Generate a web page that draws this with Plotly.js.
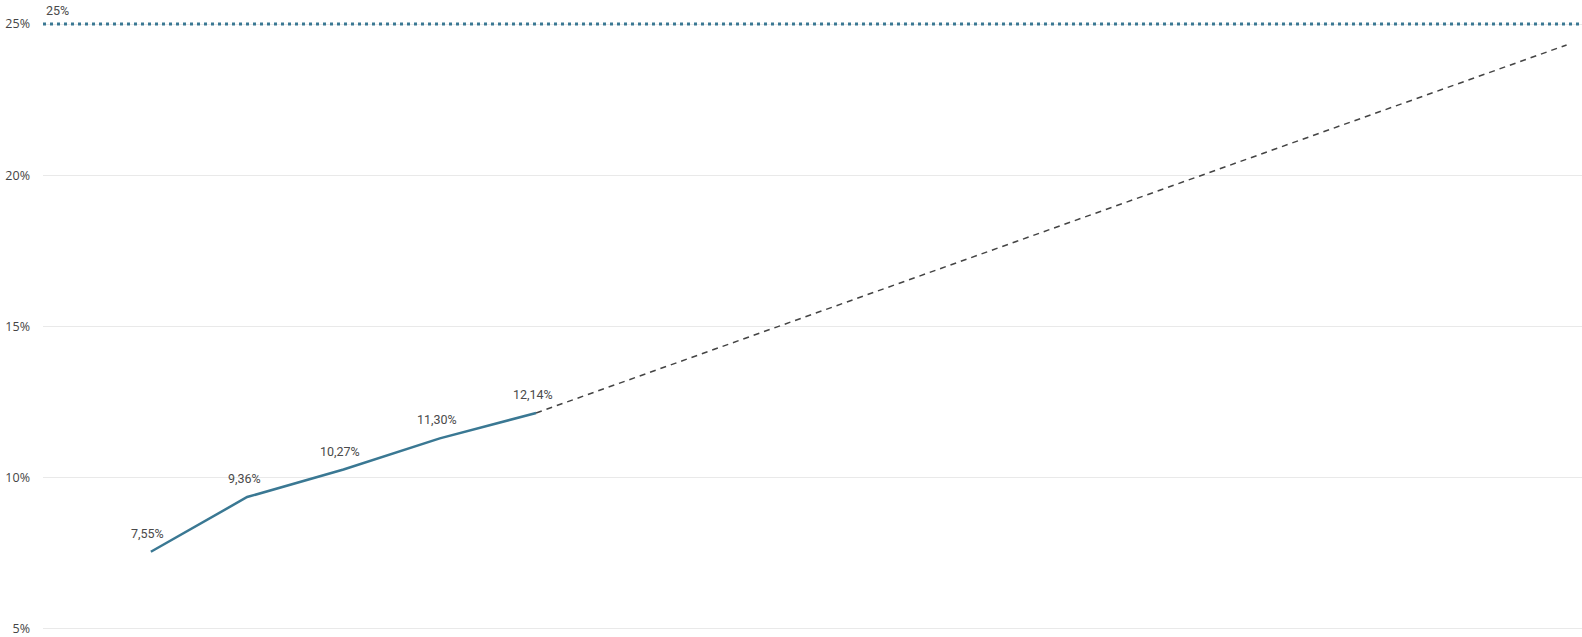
<!DOCTYPE html>
<html>
<head>
<meta charset="utf-8">
<script src="https://cdn.plot.ly/plotly-3.0.1.min.js"></script>
<style>html,body{margin:0;padding:0;background:#fff;}#chart{width:1582px;height:637px;}</style>
</head>
<body>
<div id="chart"></div>
<script>
// Data
const periods = [0, 1, 2, 3, 4];
const actualValues = [7.55, 9.36, 10.27, 11.30, 12.14];
const actualLabels = ["7,55%", "9,36%", "10,27%", "11,30%", "12,14%"];
const trendX = [4, 14.7];
const trendValues = [12.14, 24.31];
const targetValue = 25;
const targetLabel = "25%";
const yTickVals = [5, 10, 15, 20, 25];
const yTickText = ["5%", "10%", "15%", "20%", "25%"];
const xRange = [-1.12, 14.86];

const teal = "#3a7893";

const traces = [
  {
    x: xRange, y: [targetValue, targetValue], mode: "lines",
    line: {color: teal, width: 3, dash: "3px,4px"}, hoverinfo: "skip", showlegend: false
  },
  {
    x: trendX, y: trendValues, mode: "lines",
    line: {color: "#444444", width: 1.5, dash: "6px,5px"}, hoverinfo: "skip", showlegend: false
  },
  {
    x: periods, y: actualValues, mode: "lines",
    line: {color: teal, width: 2.5}, showlegend: false
  }
];

const annotations = periods.map((p, i) => ({
  x: p, y: actualValues[i], xref: "x", yref: "y", text: actualLabels[i],
  showarrow: false, yanchor: "bottom", yshift: 9, xshift: -3,
  font: {family: "Roboto, sans-serif", size: 12.5, color: "#4a4a4a"}
}));
annotations.push({
  x: 0, xref: "paper", xanchor: "left", xshift: 1, y: targetValue, yref: "y", yanchor: "bottom", yshift: 4,
  text: targetLabel, showarrow: false,
  font: {family: "Roboto, sans-serif", size: 12.5, color: "#4a4a4a"}
});

const layout = {
  width: 1582, height: 637,
  margin: {l: 43, r: 0, t: 15, b: 6},
  paper_bgcolor: "#ffffff", plot_bgcolor: "#ffffff",
  showlegend: false,
  xaxis: {range: xRange, showgrid: false, zeroline: false, showticklabels: false, showline: false, ticks: ""},
  yaxis: {
    range: [4.93, 25.3], tickvals: yTickVals, ticktext: yTickText,
    showgrid: true, gridcolor: "#e9e9e9", gridwidth: 1, zeroline: false, showline: false,
    ticks: "", ticklabelstandoff: 12, ticklabeloverflow: "allow",
    tickfont: {family: "'Open Sans', sans-serif", size: 12.5, color: "#444444"}
  },
  annotations: annotations
};

Plotly.newPlot("chart", traces, layout, {staticPlot: true, displayModeBar: false});
</script>
</body>
</html>
